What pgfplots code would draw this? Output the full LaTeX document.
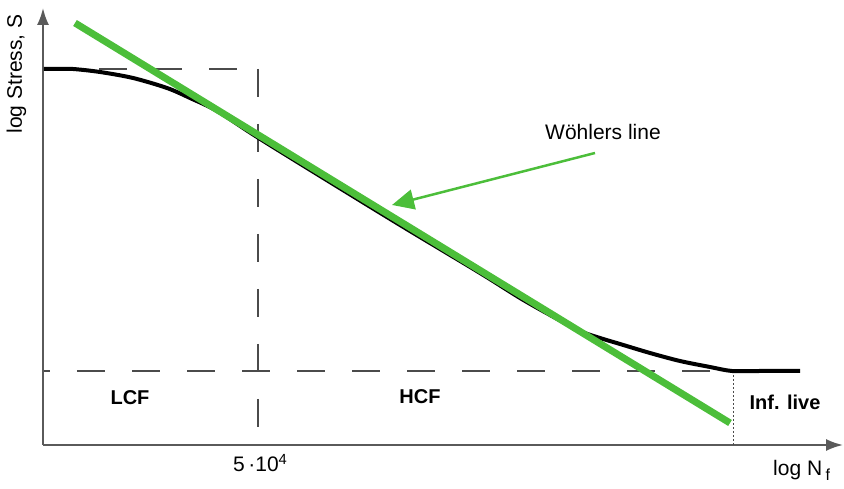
\documentclass[border=0pt]{standalone}
\usepackage{pgfplots}
\pgfplotsset{compat=1.18}
\usetikzlibrary{arrows.meta}
\usepackage{fontspec}
\setmainfont{Liberation Sans}
\definecolor{wgreen}{RGB}{76,190,58}
\definecolor{axgray}{RGB}{90,90,90}
\definecolor{dashgray}{RGB}{75,75,75}
\begin{document}
\begin{tikzpicture}
\begin{axis}[
  scale only axis, width=800pt, height=437pt,
  xmin=43, xmax=843, ymin=44, ymax=481,
  axis lines=left,
  axis line style={axgray, line width=2pt, -{Latex[length=17pt,width=12pt]}},
  xtick=\empty, ytick=\empty,
  major tick length=0pt,
  clip=false,
]
% dashed guide lines
\addplot[dashgray, line width=1.5pt, dash pattern=on 28pt off 27pt] coordinates {(44,420) (258,420)};
\addplot[dashgray, line width=1.5pt, dash pattern=on 28pt off 27pt] coordinates {(258,420) (258,57)};
\addplot[dashgray, line width=1.5pt, dash pattern=on 28pt off 27pt, dash phase=22pt] coordinates {(44,118) (733,118)};
\addplot[dashgray, line width=1pt, dash pattern=on 2pt off 2pt] coordinates {(733,118) (733,44)};
% S-N curve
\addplot[black, line width=4pt, smooth, tension=0.5] coordinates {
(44,420) (58,420) (73,420) (100,417) (133,411) (167,401) (190,391) (217,378)
(257,352) (320,313) (400,264) (480,216) (520,191) (550,174) (580,158)
(600,151) (620,145) (650,136) (680,128) (710,122) (732,118) (760,118) (800,118)};
% Woehler line
\addplot[wgreen, line width=7pt] coordinates {(75,466) (730,66)};
% pointer arrow
\addplot[wgreen, line width=2.5pt, -{Triangle[length=22pt,width=20pt]}] coordinates {(595,336) (392,284)};
% texts
\node[font=\fontsize{21}{25}\selectfont] at (axis cs:603,357) {Wöhlers line};
\node[font=\bfseries\fontsize{20}{24}\selectfont] at (axis cs:130,91) {LCF};
\node[font=\bfseries\fontsize{20}{24}\selectfont] at (axis cs:420,92) {HCF};
\node[font=\bfseries\fontsize{20}{24}\selectfont] at (axis cs:785,87) {Inf. live};
\node[font=\fontsize{21}{25}\selectfont, anchor=base west, inner sep=0pt] at (axis cs:773,13) {log N\,\raisebox{-5pt}{\fontsize{16}{18}\selectfont f}};
\node[font=\fontsize{21}{25}\selectfont, anchor=base west, inner sep=0pt] at (axis cs:233,17) {5\,·10\textsuperscript{4}};
\node[font=\fontsize{21}{25}\selectfont, rotate=90] at (axis cs:16.5,415) {log Stress, S};
\coordinate (BL) at (axis cs:0,0);
\coordinate (TR) at (axis cs:844,489);
\end{axis}
\pgfresetboundingbox
\path[use as bounding box] (BL) rectangle (TR);
\end{tikzpicture}
\end{document}
